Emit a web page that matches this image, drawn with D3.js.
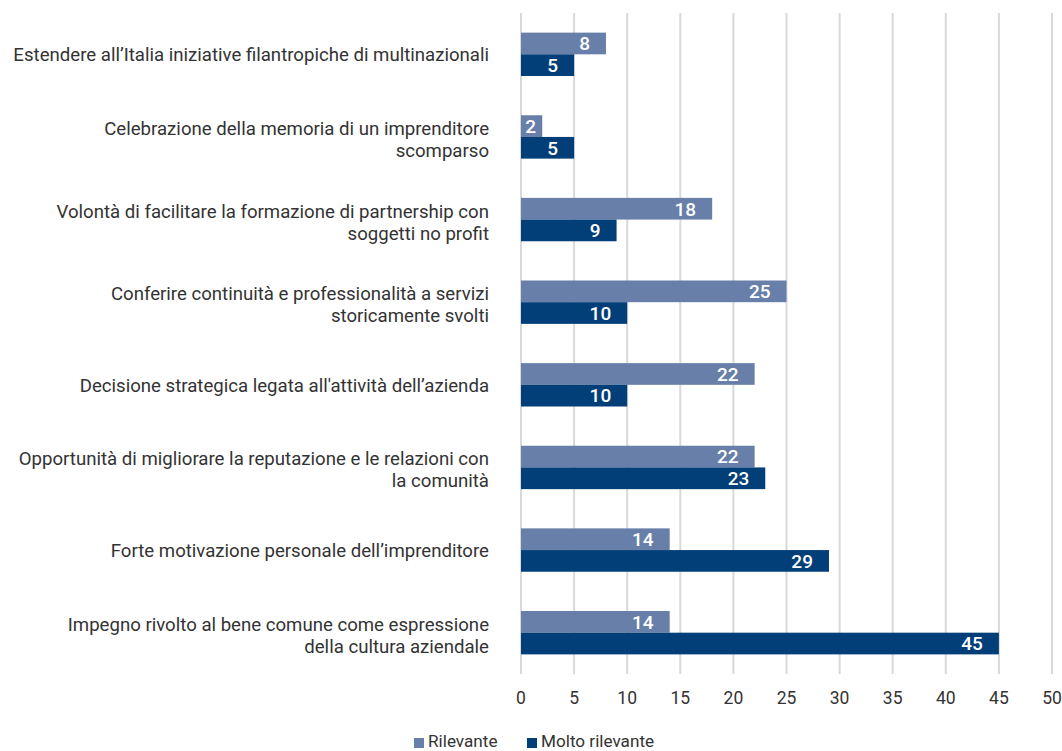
<!DOCTYPE html>
<html><head><meta charset="utf-8">
<script src="https://cdn.jsdelivr.net/npm/d3@7"></script>
<style>body{margin:0;background:#fff;font-family:Roboto,"Open Sans",sans-serif;}</style>
</head><body><svg id="c" width="1062" height="751"></svg>
<script>
const categories = [
  ["Estendere all\u2019Italia iniziative filantropiche di multinazionali"],
  ["Celebrazione della memoria di un imprenditore", "scomparso"],
  ["Volontà di facilitare la formazione di partnership con", "soggetti no profit"],
  ["Conferire continuità e professionalità a servizi", "storicamente svolti"],
  ["Decisione strategica legata all'attività dell\u2019azienda"],
  ["Opportunità di migliorare la reputazione e le relazioni con", "la comunità"],
  ["Forte motivazione personale dell\u2019imprenditore"],
  ["Impegno rivolto al bene comune come espressione", "della cultura aziendale"]
];
const seriesNames = ["Rilevante", "Molto rilevante"];
const rilevante = [8, 2, 18, 25, 22, 22, 14, 14];
const moltoRilevante = [5, 5, 9, 10, 10, 23, 29, 45];
const xTicks = [0,5,10,15,20,25,30,35,40,45,50];
const colors = ["#687fa9", "#023f78"];

(function(){
const svg = d3.select("#c");
const pL = 521, pR = 1052, pT = 13, pB = 674;
const txt = "#333333";
const x = d3.scaleLinear().domain([0,50]).range([pL,pR]);
const idx = categories.map((d,i)=>i);
const y = d3.scaleBand().domain(idx).range([pT,pB]).paddingInner(0.475).paddingOuter(0.2375);
const y1 = d3.scaleBand().domain([0,1]).range([0,y.bandwidth()]);

const probe = svg.append("text").attr("font-size",19).text(categories[0][0]);
const w0 = probe.node().getComputedTextLength();
probe.remove();
const labSize = Math.max(14, Math.min(20, 19*476/w0));

svg.append("g").selectAll("line").data(xTicks).join("line")
  .attr("x1",d=>x(d)).attr("x2",d=>x(d)).attr("y1",pT).attr("y2",pB)
  .attr("stroke","#d9d9d9").attr("stroke-width",2);

const data = idx.map(i=>({i, vals:[rilevante[i], moltoRilevante[i]]}));
const g = svg.append("g").selectAll("g").data(data).join("g")
  .attr("transform",d=>`translate(0,${y(d.i)})`);
g.selectAll("rect").data(d=>d.vals.map((v,k)=>({v,k}))).join("rect")
  .attr("x",x(0)).attr("y",d=>y1(d.k)).attr("width",d=>x(d.v)-x(0)).attr("height",y1.bandwidth())
  .attr("fill",d=>colors[d.k]);
g.selectAll("text.v").data(d=>d.vals.map((v,k)=>({v,k}))).join("text").attr("class","v")
  .attr("x",d=>Math.max(x(d.v)-16, x(0)+15)).attr("y",d=>y1(d.k)+y1.bandwidth()/2).attr("dy","0.36em")
  .attr("text-anchor","end").attr("fill","#fff").attr("font-size",19).attr("font-weight",500)
  .text(d=>d.v);

const lab = svg.append("g").selectAll("text").data(idx).join("text")
  .attr("x",489).attr("text-anchor","end").attr("fill",txt).attr("font-size",labSize)
  .attr("y",i=>y(i)+y.bandwidth()/2);
lab.each(function(i){
  const lines = categories[i];
  const t = d3.select(this);
  lines.forEach((s,k)=>{
    t.append("tspan").attr("x",489).attr("dy", k===0 ? (lines.length===1 ? "7px" : "-2px") : "22px").text(s);
  });
});

svg.append("g").selectAll("text").data(xTicks).join("text")
  .attr("x",d=>x(d)).attr("y",704).attr("text-anchor","middle").attr("fill",txt).attr("font-size",17.5)
  .text(d=>d);

const leg = svg.append("g");
const items = [{n:seriesNames[0],c:colors[0],x:414},{n:seriesNames[1],c:colors[1],x:527}];
items.forEach(it=>{
  leg.append("rect").attr("x",it.x).attr("y",738).attr("width",10).attr("height",10).attr("fill",it.c);
  leg.append("text").attr("x",it.x+14).attr("y",747).attr("fill",txt).attr("font-size",labSize*0.92).text(it.n);
});
})();
</script></body></html>
